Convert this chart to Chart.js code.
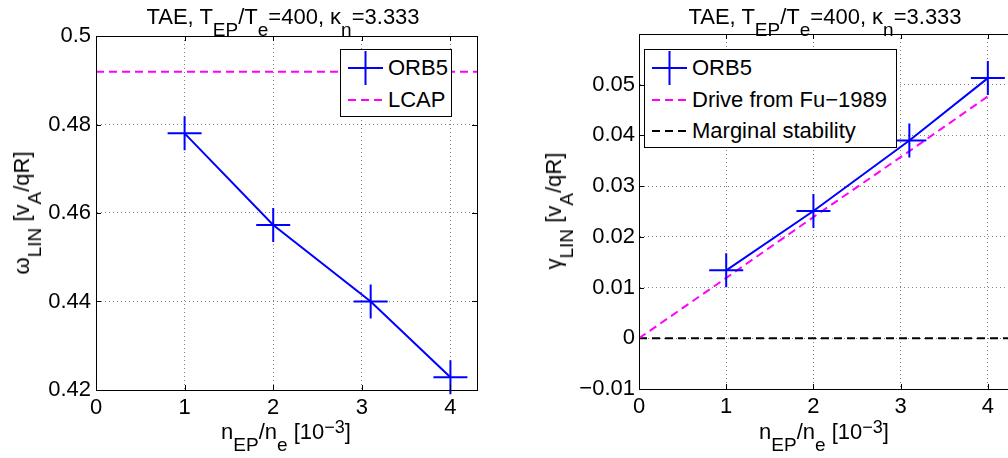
<!DOCTYPE html>
<html>
<head>
<meta charset="utf-8">
<script src="https://cdn.jsdelivr.net/npm/chart.js@4"></script>
<style>
  html, body { margin: 0; padding: 0; background: #fff; overflow: hidden; }
  body { width: 1008px; height: 458px; position: relative; font-family: "Liberation Sans", Arial, sans-serif; color: #000; }
  canvas { position: absolute; top: 0; }
  .lbl { position: absolute; font-size: 22px; line-height: 26px; white-space: nowrap; transform: translateX(-50%); }
  .lbl sub { font-size: 19px; vertical-align: -12px; line-height: 0; }
  .lbl sup { font-size: 18px; vertical-align: 6px; line-height: 0; }
  .ylab { transform: translate(-50%, -50%) rotate(-90deg); }
  .legend { position: absolute; border: 1px solid #000; background: #fff; font-size: 22px; }
  .legend .row { position: absolute; left: 0; height: 32px; line-height: 32px; white-space: nowrap; }
  .legend svg { position: absolute; left: 7px; top: 0; overflow: visible; }
  .legend span { position: absolute; left: 47px; top: 0; }
</style>
</head>
<body>
<canvas id="omega-chart" width="500" height="458" style="left:0px"></canvas>
<canvas id="gamma-chart" width="520" height="458" style="left:520px"></canvas>

<div class="lbl" style="left:283px; top:4px">TAE, T<sub>EP</sub>/T<sub>e</sub>=400, &kappa;<sub>n</sub>=3.333</div>
<div class="lbl" style="left:825px; top:4px">TAE, T<sub>EP</sub>/T<sub>e</sub>=400, &kappa;<sub>n</sub>=3.333</div>
<div class="lbl" style="left:286px; top:419px">n<sub>EP</sub>/n<sub>e</sub> [10<sup>&minus;3</sup>]</div>
<div class="lbl" style="left:824px; top:419px">n<sub>EP</sub>/n<sub>e</sub> [10<sup>&minus;3</sup>]</div>
<div class="lbl ylab" style="left:22px; top:213px">&omega;<sub>LIN</sub> [v<sub>A</sub>/qR]</div>
<div class="lbl ylab" style="left:554px; top:211px">&gamma;<sub>LIN</sub> [v<sub>A</sub>/qR]</div>

<div class="legend" id="omega-legend" style="left:340px; top:49px; width:110px; height:66px"></div>
<div class="legend" id="gamma-legend" style="left:644px; top:49px; width:251px; height:97px"></div>

<script>
// data
const xRun = [1, 2, 3.1, 4];
const omegaOrb5 = [0.478, 0.4573, 0.440, 0.4229];
const lcapX = [0, 4.3];
const lcapOmega = [0.4919, 0.4919];

const gammaOrb5 = [0.0134, 0.0251, 0.0390, 0.0513];
const driveX = [0, 1, 2, 3.1, 4];
const driveGamma = [0, 0.0119, 0.0239, 0.0369, 0.0477];
const marginalX = [0, 4.3];
const marginalGamma = [0, 0];

const xTicks = [0, 1, 2, 3, 4];
const omegaTicks = [0.42, 0.44, 0.46, 0.48, 0.5];
const gammaTicks = [-0.01, 0, 0.01, 0.02, 0.03, 0.04, 0.05];

const BLUE = '#0000ff';
const MAGENTA = '#ff00ff';
const BLACK = '#000000';
const DASH = [8, 5];
const tickFont = { family: '"Liberation Sans", Arial, sans-serif', size: 22 };

function pts(xs, ys) {
    return xs.map((x, i) => ({ x: x, y: ys[i] }));
}

function orbSet(ys) {
    return {
        label: 'ORB5', data: pts(xRun, ys), showLine: true,
        borderColor: BLUE, borderWidth: 2, backgroundColor: BLUE,
        pointStyle: 'cross', pointRadius: 17, pointBorderWidth: 2, pointBorderColor: BLUE,
        clip: false,
    };
}

function dashedSet(label, xs, ys, color) {
    return {
        label: label, data: pts(xs, ys), showLine: true,
        borderColor: color, borderWidth: 2, borderDash: DASH, pointRadius: 0,
    };
}

// black box round the plot area, with short ticks pointing inwards
const framePlugin = {
    id: 'frame',
    afterDraw(chart) {
        const { ctx, chartArea: a, scales } = chart;
        ctx.save();
        ctx.strokeStyle = BLACK;
        ctx.lineWidth = 1;
        ctx.strokeRect(Math.round(a.left) + 0.5, Math.round(a.top) + 0.5,
            Math.round(a.right - a.left), Math.round(a.bottom - a.top));
        ctx.beginPath();
        scales.x.ticks.forEach(t => {
            const px = Math.round(scales.x.getPixelForValue(t.value)) + 0.5;
            ctx.moveTo(px, a.bottom); ctx.lineTo(px, a.bottom - 5);
            ctx.moveTo(px, a.top); ctx.lineTo(px, a.top + 5);
        });
        scales.y.ticks.forEach(t => {
            const py = Math.round(scales.y.getPixelForValue(t.value)) + 0.5;
            ctx.moveTo(a.left, py); ctx.lineTo(a.left + 5, py);
            ctx.moveTo(a.right, py); ctx.lineTo(a.right - 5, py);
        });
        ctx.stroke();
        ctx.restore();
    }
};

function fmt(v) {
    const s = String(+v.toFixed(4));
    return s.replace('-', '\u2212');
}

function makeChart(canvas, datasets, yMin, yMax, yTicks, box) {
    const grid = { color: 'rgba(0,0,0,0.5)', drawTicks: false, lineWidth: 1 };
    const border = { display: true, color: BLACK, dash: [1, 3] };
    return new Chart(canvas, {
        type: 'scatter',
        data: { datasets: datasets },
        options: {
            responsive: false,
            animation: false,
            layout: { padding: { top: box.top, right: box.right, left: 0, bottom: 0 } },
            plugins: { legend: { display: false }, tooltip: { enabled: false } },
            scales: {
                x: {
                    type: 'linear', min: 0, max: 4.3,
                    afterBuildTicks: s => { s.ticks = xTicks.map(v => ({ value: v })); },
                    afterFit: s => { s.height = box.xh; },
                    ticks: { font: tickFont, color: BLACK, padding: 5, autoSkip: false, maxRotation: 0, callback: fmt },
                    grid: grid, border: border,
                },
                y: {
                    type: 'linear', min: yMin, max: yMax,
                    afterBuildTicks: s => { s.ticks = yTicks.map(v => ({ value: v })); },
                    afterFit: s => { s.width = box.yw; },
                    ticks: { font: tickFont, color: BLACK, padding: box.ypad, autoSkip: false, callback: fmt },
                    grid: grid, border: border,
                },
            },
        },
        plugins: [framePlugin],
    });
}

function buildLegend(el, entries) {
    entries.forEach((e, i) => {
        const row = document.createElement('div');
        row.className = 'row';
        row.style.top = (2 + i * 31.6) + 'px';
        const dash = e.dash ? ' stroke-dasharray="8 5"' : '';
        let svg = '<svg width="35" height="32"><line x1="0" y1="16" x2="35" y2="16" stroke="' + e.color + '" stroke-width="2"' + dash + '/>';
        if (e.cross) {
            svg += '<line x1="17.5" y1="-1" x2="17.5" y2="33" stroke="' + e.color + '" stroke-width="2"/>';
        }
        svg += '</svg>';
        row.innerHTML = svg + '<span>' + e.label + '</span>';
        el.appendChild(row);
    });
}

makeChart(document.getElementById('omega-chart'),
    [orbSet(omegaOrb5), dashedSet('LCAP', lcapX, lcapOmega, MAGENTA)],
    0.42, 0.5, omegaTicks,
    { top: 36, right: 23, xh: 68, yw: 96, ypad: 5 });

makeChart(document.getElementById('gamma-chart'),
    [orbSet(gammaOrb5),
     dashedSet('Drive from Fu\u22121989', driveX, driveGamma, MAGENTA),
     dashedSet('Marginal stability', marginalX, marginalGamma, BLACK)],
    -0.01, 0.06, gammaTicks,
    { top: 34, right: 26, xh: 69, yw: 119, ypad: 4 });

buildLegend(document.getElementById('omega-legend'), [
    { label: 'ORB5', color: BLUE, cross: true },
    { label: 'LCAP', color: MAGENTA, dash: true },
]);
buildLegend(document.getElementById('gamma-legend'), [
    { label: 'ORB5', color: BLUE, cross: true },
    { label: 'Drive from Fu\u22121989', color: MAGENTA, dash: true },
    { label: 'Marginal stability', color: BLACK, dash: true },
]);
</script>
</body>
</html>
